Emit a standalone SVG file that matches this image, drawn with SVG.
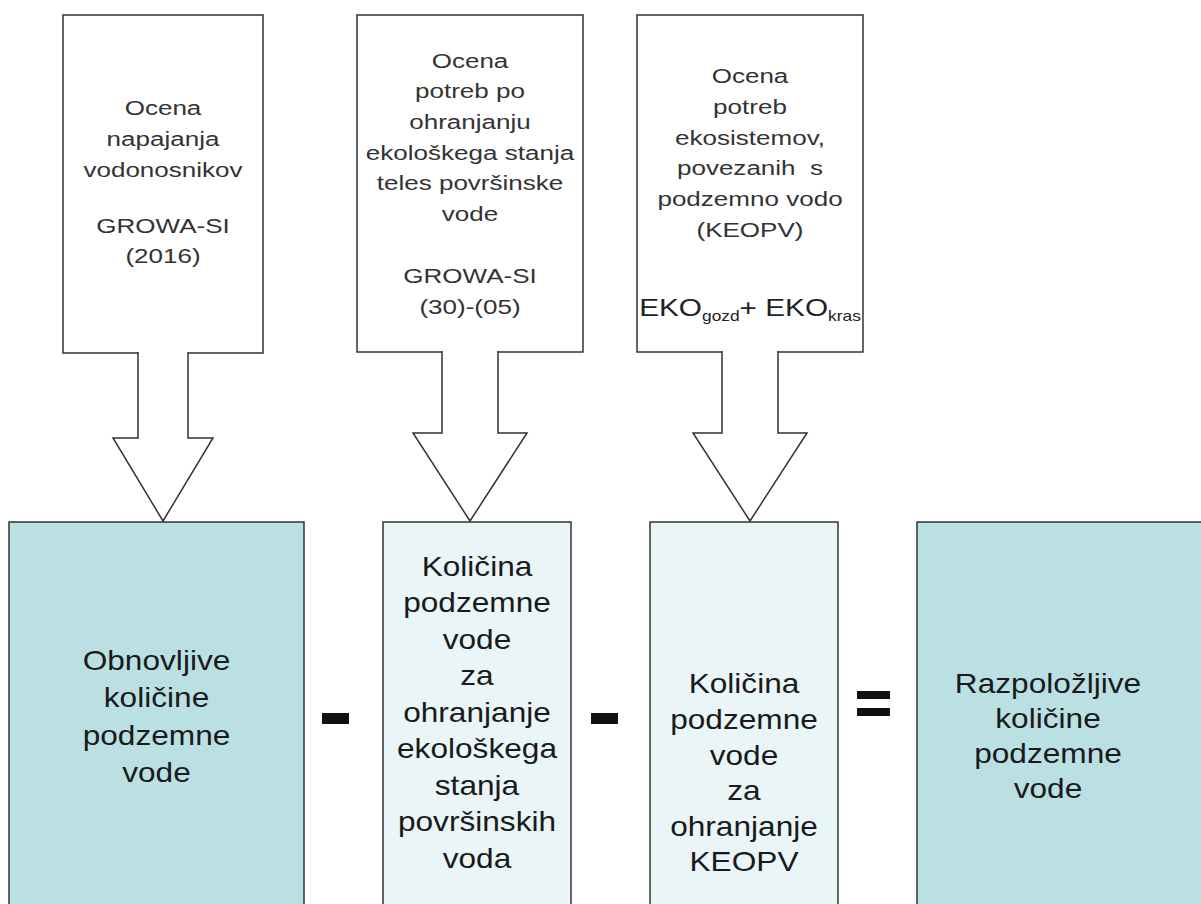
<svg xmlns="http://www.w3.org/2000/svg" width="1201" height="904" viewBox="0 0 1201 904">
<style>
.bg{fill:#ffffff}
.callout{fill:#ffffff;stroke:#333333;stroke-width:1.5}
.arrow{fill:#ffffff;stroke:#333333;stroke-width:1.5;stroke-linejoin:miter}
.dark{fill:#bae0e3;stroke:#333333;stroke-width:1.5}
.light{fill:#e9f5f7;stroke:#333333;stroke-width:1.5}
.tt{font-family:"Liberation Sans",Arial,sans-serif;font-size:21px;fill:#333333;text-anchor:middle}
.bt{font-family:"Liberation Sans",Arial,sans-serif;font-size:28px;fill:#1a1a1a;text-anchor:middle}
.op{fill:#111111}
</style>
<rect class="bg" x="0" y="0" width="1201" height="904"/>

<g id="src1">
<rect class="callout" x="63" y="15" width="200" height="338"/>
<g transform="translate(163,0) scale(1.24,1)">
<text class="tt" x="0" y="115">Ocena</text>
<text class="tt" x="0" y="146">napajanja</text>
<text class="tt" x="0" y="177">vodonosnikov</text>
<text class="tt" x="0" y="233">GROWA-SI</text>
<text class="tt" x="0" y="263">(2016)</text>
</g>
</g>

<g id="src2">
<rect class="callout" x="357" y="15" width="226" height="337"/>
<g transform="translate(470,0) scale(1.24,1)">
<text class="tt" x="0" y="68">Ocena</text>
<text class="tt" x="0" y="98">potreb po</text>
<text class="tt" x="0" y="129">ohranjanju</text>
<text class="tt" x="0" y="160">ekološkega stanja</text>
<text class="tt" x="0" y="190">teles površinske</text>
<text class="tt" x="0" y="221">vode</text>
<text class="tt" x="0" y="283">GROWA-SI</text>
<text class="tt" x="0" y="314">(30)-(05)</text>
</g>
</g>

<g id="src3">
<rect class="callout" x="637" y="15" width="226" height="337"/>
<g transform="translate(750,0) scale(1.24,1)">
<text class="tt" x="0" y="83">Ocena</text>
<text class="tt" x="0" y="114">potreb</text>
<text class="tt" x="0" y="145">ekosistemov,</text>
<text class="tt" x="0" y="175" xml:space="preserve">povezanih  s</text>
<text class="tt" x="0" y="206">podzemno vodo</text>
<text class="tt" x="0" y="237">(KEOPV)</text>
<text class="tt" x="0" y="316" style="font-size:24px;fill:#222222">EKO<tspan font-size="14" dy="5">gozd</tspan><tspan dy="-5">+ EKO</tspan><tspan font-size="14" dy="5">kras</tspan></text>
</g>
</g>

<g id="res1">
<rect class="dark" x="9" y="522" width="295" height="400"/>
<g transform="translate(156.5,0) scale(1.13,1)">
<text class="bt" x="0" y="670">Obnovljive</text>
<text class="bt" x="0" y="707">količine</text>
<text class="bt" x="0" y="745">podzemne</text>
<text class="bt" x="0" y="782">vode</text>
</g>
</g>

<g id="res2">
<rect class="light" x="383" y="522" width="188" height="400"/>
<g transform="translate(477,0) scale(1.13,1)">
<text class="bt" x="0" y="576">Količina</text>
<text class="bt" x="0" y="612">podzemne</text>
<text class="bt" x="0" y="649">vode</text>
<text class="bt" x="0" y="685">za</text>
<text class="bt" x="0" y="722">ohranjanje</text>
<text class="bt" x="0" y="758">ekološkega</text>
<text class="bt" x="0" y="795">stanja</text>
<text class="bt" x="0" y="831">površinskih</text>
<text class="bt" x="0" y="868">voda</text>
</g>
</g>

<g id="res3">
<rect class="light" x="650" y="522" width="188" height="400"/>
<g transform="translate(744,0) scale(1.13,1)">
<text class="bt" x="0" y="693">Količina</text>
<text class="bt" x="0" y="729">podzemne</text>
<text class="bt" x="0" y="765">vode</text>
<text class="bt" x="0" y="800">za</text>
<text class="bt" x="0" y="836">ohranjanje</text>
<text class="bt" x="0" y="871">KEOPV</text>
</g>
</g>

<g id="res4">
<rect class="dark" x="917" y="522" width="300" height="400"/>
<g transform="translate(1048,0) scale(1.13,1)">
<text class="bt" x="0" y="693">Razpoložljive</text>
<text class="bt" x="0" y="728">količine</text>
<text class="bt" x="0" y="763">podzemne</text>
<text class="bt" x="0" y="798">vode</text>
</g>
</g>

<g id="operators">
<rect class="op" x="322" y="713" width="27" height="11"/>
<rect class="op" x="591" y="713" width="27" height="11"/>
<rect class="op" x="857" y="691" width="33" height="8"/>
<rect class="op" x="857" y="708" width="33" height="8"/>
</g>

<g id="connectors">
<path class="arrow" d="M138,352 V438 H113 L163,521 L213,438 H188 V352"/>
<path class="arrow" d="M442,351 V433 H413 L470,521 L527,433 H498 V351"/>
<path class="arrow" d="M722,351 V433 H693 L750,521 L807,433 H778 V351"/>
</g>
</svg>
